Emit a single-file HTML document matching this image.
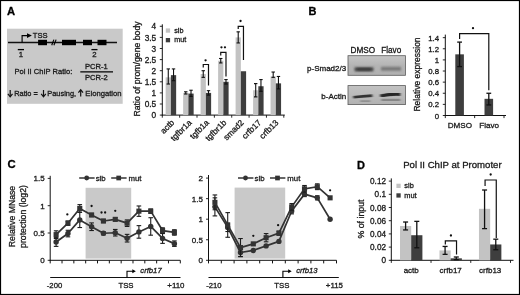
<!DOCTYPE html>
<html><head><meta charset="utf-8"><title>Figure</title>
<style>
html,body{margin:0;padding:0;background:#fff;}
svg{display:block;font-family:"Liberation Sans",sans-serif;}
</style></head><body>
<svg width="520" height="295" viewBox="0 0 520 295">
<rect x="0.55" y="0.55" width="518.90" height="293.90" fill="#fff" stroke="#000" stroke-width="1.1"/>
<text x="7.10" y="15.40" font-size="11.2" text-anchor="start" font-weight="bold" font-style="normal" fill="#000" stroke="#000" stroke-width="0.3" >A</text>
<text x="308.50" y="15.40" font-size="11" text-anchor="start" font-weight="bold" font-style="normal" fill="#000" stroke="#000" stroke-width="0.3" >B</text>
<text x="7.40" y="168.00" font-size="11.3" text-anchor="start" font-weight="bold" font-style="normal" fill="#000" stroke="#000" stroke-width="0.3" >C</text>
<text x="357.00" y="168.50" font-size="11" text-anchor="start" font-weight="bold" font-style="normal" fill="#000" stroke="#000" stroke-width="0.3" >D</text>
<rect x="7.00" y="28.70" width="115.70" height="75.10" fill="#c9c9c9" />
<line x1="8.00" y1="42.50" x2="117.00" y2="42.50" stroke="#111" stroke-width="1.3" />
<rect x="38.10" y="39.80" width="8.90" height="5.40" fill="#000" />
<rect x="62.00" y="39.80" width="14.00" height="5.40" fill="#000" />
<rect x="83.00" y="39.80" width="9.00" height="5.40" fill="#000" />
<rect x="97.50" y="39.80" width="9.00" height="5.40" fill="#000" />
<line x1="51.70" y1="45.20" x2="53.90" y2="39.60" stroke="#000" stroke-width="1.15" />
<line x1="53.90" y1="45.20" x2="56.10" y2="39.60" stroke="#000" stroke-width="1.15" />
<path d="M22.1 42.5V35.6H28" fill="none" stroke="#000" stroke-width="1.15"/>
<path d="M27 33.3L31.9 35.6L27 37.9Z" fill="#000"/>
<text x="32.80" y="38.30" font-size="7.6" text-anchor="start" font-weight="normal" font-style="normal" fill="#1a1a1a" stroke="#1a1a1a" stroke-width="0.3" >TSS</text>
<line x1="17.80" y1="49.60" x2="24.00" y2="49.60" stroke="#000" stroke-width="1.3" />
<text x="20.90" y="57.00" font-size="7.8" text-anchor="middle" font-weight="normal" font-style="normal" fill="#1a1a1a" stroke="#1a1a1a" stroke-width="0.3" >1</text>
<line x1="91.40" y1="49.60" x2="97.50" y2="49.60" stroke="#000" stroke-width="1.3" />
<text x="94.30" y="57.00" font-size="7.8" text-anchor="middle" font-weight="normal" font-style="normal" fill="#1a1a1a" stroke="#1a1a1a" stroke-width="0.3" >2</text>
<text x="14.50" y="73.80" font-size="7.55" text-anchor="start" font-weight="normal" font-style="normal" fill="#1a1a1a" stroke="#1a1a1a" stroke-width="0.3" >Pol II ChIP Ratio:</text>
<text x="96.30" y="68.80" font-size="7.6" text-anchor="middle" font-weight="normal" font-style="normal" fill="#1a1a1a" stroke="#1a1a1a" stroke-width="0.3" >PCR-1</text>
<line x1="80.30" y1="71.90" x2="113.00" y2="71.90" stroke="#000" stroke-width="1.4" />
<text x="96.30" y="79.70" font-size="7.6" text-anchor="middle" font-weight="normal" font-style="normal" fill="#1a1a1a" stroke="#1a1a1a" stroke-width="0.3" >PCR-2</text>
<line x1="10.20" y1="90.00" x2="10.20" y2="96.30" stroke="#111" stroke-width="1.2" />
<path d="M7.90 93.90L10.20 96.80L12.50 93.90" fill="none" stroke="#111" stroke-width="1.2"/>
<text x="14.20" y="96.30" font-size="7.4" text-anchor="start" font-weight="normal" font-style="normal" fill="#1a1a1a" stroke="#1a1a1a" stroke-width="0.3" >Ratio =</text>
<line x1="43.50" y1="90.00" x2="43.50" y2="96.30" stroke="#111" stroke-width="1.2" />
<path d="M41.20 93.90L43.50 96.80L45.80 93.90" fill="none" stroke="#111" stroke-width="1.2"/>
<text x="47.30" y="96.30" font-size="7.4" text-anchor="start" font-weight="normal" font-style="normal" fill="#1a1a1a" stroke="#1a1a1a" stroke-width="0.3" >Pausing,</text>
<line x1="80.70" y1="90.30" x2="80.70" y2="96.60" stroke="#111" stroke-width="1.2" />
<path d="M78.40 92.70L80.70 89.80L83.00 92.70" fill="none" stroke="#111" stroke-width="1.2"/>
<text x="85.30" y="96.30" font-size="7.7" text-anchor="start" font-weight="normal" font-style="normal" fill="#1a1a1a" stroke="#1a1a1a" stroke-width="0.3" >Elongation</text>
<line x1="162.30" y1="24.30" x2="162.30" y2="115.60" stroke="#111" stroke-width="1.0" />
<line x1="161.80" y1="115.10" x2="284.80" y2="115.10" stroke="#111" stroke-width="1.0" />
<line x1="159.80" y1="115.10" x2="162.30" y2="115.10" stroke="#111" stroke-width="0.9" />
<text x="156.20" y="118.20" font-size="8.3" text-anchor="end" font-weight="normal" font-style="normal" fill="#1a1a1a" stroke="#1a1a1a" stroke-width="0.3" >0</text>
<line x1="159.80" y1="104.00" x2="162.30" y2="104.00" stroke="#111" stroke-width="0.9" />
<text x="156.20" y="107.10" font-size="8.3" text-anchor="end" font-weight="normal" font-style="normal" fill="#1a1a1a" stroke="#1a1a1a" stroke-width="0.3" >0.5</text>
<line x1="159.80" y1="92.90" x2="162.30" y2="92.90" stroke="#111" stroke-width="0.9" />
<text x="156.20" y="96.00" font-size="8.3" text-anchor="end" font-weight="normal" font-style="normal" fill="#1a1a1a" stroke="#1a1a1a" stroke-width="0.3" >1</text>
<line x1="159.80" y1="81.80" x2="162.30" y2="81.80" stroke="#111" stroke-width="0.9" />
<text x="156.20" y="84.90" font-size="8.3" text-anchor="end" font-weight="normal" font-style="normal" fill="#1a1a1a" stroke="#1a1a1a" stroke-width="0.3" >1.5</text>
<line x1="159.80" y1="70.70" x2="162.30" y2="70.70" stroke="#111" stroke-width="0.9" />
<text x="156.20" y="73.80" font-size="8.3" text-anchor="end" font-weight="normal" font-style="normal" fill="#1a1a1a" stroke="#1a1a1a" stroke-width="0.3" >2</text>
<line x1="159.80" y1="59.60" x2="162.30" y2="59.60" stroke="#111" stroke-width="0.9" />
<text x="156.20" y="62.70" font-size="8.3" text-anchor="end" font-weight="normal" font-style="normal" fill="#1a1a1a" stroke="#1a1a1a" stroke-width="0.3" >2.5</text>
<line x1="159.80" y1="48.50" x2="162.30" y2="48.50" stroke="#111" stroke-width="0.9" />
<text x="156.20" y="51.60" font-size="8.3" text-anchor="end" font-weight="normal" font-style="normal" fill="#1a1a1a" stroke="#1a1a1a" stroke-width="0.3" >3</text>
<line x1="159.80" y1="37.40" x2="162.30" y2="37.40" stroke="#111" stroke-width="0.9" />
<text x="156.20" y="40.50" font-size="8.3" text-anchor="end" font-weight="normal" font-style="normal" fill="#1a1a1a" stroke="#1a1a1a" stroke-width="0.3" >3.5</text>
<line x1="159.80" y1="26.30" x2="162.30" y2="26.30" stroke="#111" stroke-width="0.9" />
<text x="156.20" y="29.40" font-size="8.3" text-anchor="end" font-weight="normal" font-style="normal" fill="#1a1a1a" stroke="#1a1a1a" stroke-width="0.3" >4</text>
<line x1="162.30" y1="115.10" x2="162.30" y2="117.70" stroke="#111" stroke-width="0.9" />
<line x1="179.66" y1="115.10" x2="179.66" y2="117.70" stroke="#111" stroke-width="0.9" />
<line x1="197.01" y1="115.10" x2="197.01" y2="117.70" stroke="#111" stroke-width="0.9" />
<line x1="214.37" y1="115.10" x2="214.37" y2="117.70" stroke="#111" stroke-width="0.9" />
<line x1="231.73" y1="115.10" x2="231.73" y2="117.70" stroke="#111" stroke-width="0.9" />
<line x1="249.09" y1="115.10" x2="249.09" y2="117.70" stroke="#111" stroke-width="0.9" />
<line x1="266.44" y1="115.10" x2="266.44" y2="117.70" stroke="#111" stroke-width="0.9" />
<line x1="283.80" y1="115.10" x2="283.80" y2="117.70" stroke="#111" stroke-width="0.9" />
<text transform="translate(140.4,69.0) rotate(-90)" font-size="8.7" stroke="#1a1a1a" stroke-width="0.3" text-anchor="middle" fill="#1a1a1a">Ratio of prom/gene body</text>
<rect x="165.65" y="77.36" width="5.25" height="37.74" fill="#c3c3c3" />
<rect x="170.90" y="75.14" width="5.25" height="39.96" fill="#3e3e3e" />
<line x1="168.28" y1="68.92" x2="168.28" y2="84.02" stroke="#111" stroke-width="1.1" />
<line x1="166.58" y1="68.92" x2="169.97" y2="68.92" stroke="#111" stroke-width="1.1" />
<line x1="166.58" y1="84.02" x2="169.97" y2="84.02" stroke="#111" stroke-width="1.1" />
<line x1="173.53" y1="68.92" x2="173.53" y2="80.69" stroke="#111" stroke-width="1.1" />
<line x1="171.83" y1="68.92" x2="175.22" y2="68.92" stroke="#111" stroke-width="1.1" />
<line x1="171.83" y1="80.69" x2="175.22" y2="80.69" stroke="#111" stroke-width="1.1" />
<text transform="translate(174.88,123.20) rotate(-45)" font-size="8.3" stroke="#1a1a1a" stroke-width="0.3" text-anchor="end" fill="#1a1a1a">actb</text>
<rect x="183.14" y="92.90" width="5.25" height="22.20" fill="#c3c3c3" />
<rect x="188.39" y="93.57" width="5.25" height="21.53" fill="#3e3e3e" />
<line x1="185.76" y1="91.79" x2="185.76" y2="94.01" stroke="#111" stroke-width="1.1" />
<line x1="184.06" y1="91.79" x2="187.46" y2="91.79" stroke="#111" stroke-width="1.1" />
<line x1="184.06" y1="94.01" x2="187.46" y2="94.01" stroke="#111" stroke-width="1.1" />
<line x1="191.01" y1="90.24" x2="191.01" y2="96.45" stroke="#111" stroke-width="1.1" />
<line x1="189.31" y1="90.24" x2="192.71" y2="90.24" stroke="#111" stroke-width="1.1" />
<line x1="189.31" y1="96.45" x2="192.71" y2="96.45" stroke="#111" stroke-width="1.1" />
<text transform="translate(192.24,123.20) rotate(-45)" font-size="8.3" stroke="#1a1a1a" stroke-width="0.3" text-anchor="end" fill="#1a1a1a">tgfbr1a</text>
<rect x="200.62" y="74.03" width="5.25" height="41.07" fill="#c3c3c3" />
<rect x="205.87" y="92.90" width="5.25" height="22.20" fill="#3e3e3e" />
<line x1="203.25" y1="70.70" x2="203.25" y2="77.36" stroke="#111" stroke-width="1.1" />
<line x1="201.55" y1="70.70" x2="204.95" y2="70.70" stroke="#111" stroke-width="1.1" />
<line x1="201.55" y1="77.36" x2="204.95" y2="77.36" stroke="#111" stroke-width="1.1" />
<line x1="208.50" y1="90.68" x2="208.50" y2="95.12" stroke="#111" stroke-width="1.1" />
<line x1="206.80" y1="90.68" x2="210.20" y2="90.68" stroke="#111" stroke-width="1.1" />
<line x1="206.80" y1="95.12" x2="210.20" y2="95.12" stroke="#111" stroke-width="1.1" />
<text transform="translate(209.59,123.20) rotate(-45)" font-size="8.3" stroke="#1a1a1a" stroke-width="0.3" text-anchor="end" fill="#1a1a1a">tgfb1a</text>
<rect x="218.11" y="60.71" width="5.25" height="54.39" fill="#c3c3c3" />
<rect x="223.36" y="81.80" width="5.25" height="33.30" fill="#3e3e3e" />
<line x1="220.74" y1="58.49" x2="220.74" y2="62.93" stroke="#111" stroke-width="1.1" />
<line x1="219.04" y1="58.49" x2="222.44" y2="58.49" stroke="#111" stroke-width="1.1" />
<line x1="219.04" y1="62.93" x2="222.44" y2="62.93" stroke="#111" stroke-width="1.1" />
<line x1="225.99" y1="79.58" x2="225.99" y2="84.02" stroke="#111" stroke-width="1.1" />
<line x1="224.29" y1="79.58" x2="227.69" y2="79.58" stroke="#111" stroke-width="1.1" />
<line x1="224.29" y1="84.02" x2="227.69" y2="84.02" stroke="#111" stroke-width="1.1" />
<text transform="translate(226.95,123.20) rotate(-45)" font-size="8.3" stroke="#1a1a1a" stroke-width="0.3" text-anchor="end" fill="#1a1a1a">tgfbr1b</text>
<rect x="235.60" y="37.40" width="5.25" height="77.70" fill="#c3c3c3" />
<rect x="240.85" y="71.25" width="5.25" height="43.84" fill="#3e3e3e" />
<line x1="238.22" y1="31.85" x2="238.22" y2="42.95" stroke="#111" stroke-width="1.1" />
<line x1="236.52" y1="31.85" x2="239.92" y2="31.85" stroke="#111" stroke-width="1.1" />
<line x1="236.52" y1="42.95" x2="239.92" y2="42.95" stroke="#111" stroke-width="1.1" />
<text transform="translate(244.31,123.20) rotate(-45)" font-size="8.3" stroke="#1a1a1a" stroke-width="0.3" text-anchor="end" fill="#1a1a1a">smad2</text>
<rect x="253.09" y="90.24" width="5.25" height="24.86" fill="#c3c3c3" />
<rect x="258.34" y="86.24" width="5.25" height="28.86" fill="#3e3e3e" />
<line x1="255.71" y1="83.58" x2="255.71" y2="96.90" stroke="#111" stroke-width="1.1" />
<line x1="254.01" y1="83.58" x2="257.41" y2="83.58" stroke="#111" stroke-width="1.1" />
<line x1="254.01" y1="96.90" x2="257.41" y2="96.90" stroke="#111" stroke-width="1.1" />
<line x1="260.96" y1="79.58" x2="260.96" y2="91.35" stroke="#111" stroke-width="1.1" />
<line x1="259.26" y1="79.58" x2="262.66" y2="79.58" stroke="#111" stroke-width="1.1" />
<line x1="259.26" y1="91.35" x2="262.66" y2="91.35" stroke="#111" stroke-width="1.1" />
<text transform="translate(261.66,123.20) rotate(-45)" font-size="8.3" stroke="#1a1a1a" stroke-width="0.3" text-anchor="end" fill="#1a1a1a">crfb17</text>
<rect x="270.57" y="76.47" width="5.25" height="38.63" fill="#c3c3c3" />
<rect x="275.82" y="83.35" width="5.25" height="31.75" fill="#3e3e3e" />
<line x1="273.20" y1="72.03" x2="273.20" y2="77.36" stroke="#111" stroke-width="1.1" />
<line x1="271.50" y1="72.03" x2="274.90" y2="72.03" stroke="#111" stroke-width="1.1" />
<line x1="271.50" y1="77.36" x2="274.90" y2="77.36" stroke="#111" stroke-width="1.1" />
<line x1="278.45" y1="76.47" x2="278.45" y2="88.90" stroke="#111" stroke-width="1.1" />
<line x1="276.75" y1="76.47" x2="280.15" y2="76.47" stroke="#111" stroke-width="1.1" />
<line x1="276.75" y1="88.90" x2="280.15" y2="88.90" stroke="#111" stroke-width="1.1" />
<text transform="translate(279.02,123.20) rotate(-45)" font-size="8.3" stroke="#1a1a1a" stroke-width="0.3" text-anchor="end" fill="#1a1a1a">crfb13</text>
<rect x="165.80" y="28.40" width="4.30" height="4.30" fill="#c3c3c3" />
<text x="174.20" y="32.50" font-size="7.2" text-anchor="start" font-weight="normal" font-style="normal" fill="#1a1a1a" stroke="#1a1a1a" stroke-width="0.3" >sib</text>
<rect x="165.80" y="38.00" width="4.30" height="4.30" fill="#3e3e3e" />
<text x="174.20" y="42.10" font-size="7.2" text-anchor="start" font-weight="normal" font-style="normal" fill="#1a1a1a" stroke="#1a1a1a" stroke-width="0.3" >mut</text>
<path d="M203.25 67.50V64.50H208.50V85.50" fill="none" stroke="#111" stroke-width="1.2"/>
<circle cx="205.57" cy="60.30" r="1.15" fill="#111"/>
<path d="M220.74 55.50V52.30H225.99V76.50" fill="none" stroke="#111" stroke-width="1.2"/>
<circle cx="221.46" cy="47.30" r="1.15" fill="#111"/>
<circle cx="224.96" cy="47.30" r="1.15" fill="#111"/>
<path d="M238.22 29.00V26.30H243.47V60.00" fill="none" stroke="#111" stroke-width="1.2"/>
<circle cx="240.55" cy="21.00" r="1.15" fill="#111"/>
<text x="350.50" y="52.80" font-size="8.2" text-anchor="start" font-weight="normal" font-style="normal" fill="#1a1a1a" stroke="#1a1a1a" stroke-width="0.3" >DMSO</text>
<text x="381.20" y="52.80" font-size="8.2" text-anchor="start" font-weight="normal" font-style="normal" fill="#1a1a1a" stroke="#1a1a1a" stroke-width="0.3" >Flavo</text>
<text x="346.20" y="70.90" font-size="8" text-anchor="end" font-weight="normal" font-style="normal" fill="#1a1a1a" stroke="#1a1a1a" stroke-width="0.3" >p-Smad2/3</text>
<text x="346.20" y="99.10" font-size="8" text-anchor="end" font-weight="normal" font-style="normal" fill="#1a1a1a" stroke="#1a1a1a" stroke-width="0.3" >b-Actin</text>
<defs>
<filter id="bl" x="-20%" y="-50%" width="140%" height="200%"><feGaussianBlur stdDeviation="1.1 0.9"/></filter>
<filter id="bl2" x="-20%" y="-50%" width="140%" height="200%"><feGaussianBlur stdDeviation="0.8 0.6"/></filter>
<linearGradient id="bg1" x1="0" x2="0" y1="0" y2="1"><stop offset="0" stop-color="#c6c6c6"/><stop offset="0.5" stop-color="#b4b4b4"/><stop offset="1" stop-color="#b0b0b0"/></linearGradient>
<clipPath id="c1"><rect x="348" y="55.7" width="57.4" height="19.6"/></clipPath>
<clipPath id="c2"><rect x="348" y="85.6" width="57.4" height="19"/></clipPath>
<linearGradient id="bg2" x1="0" x2="0" y1="0" y2="1"><stop offset="0" stop-color="#c2c2c2"/><stop offset="1" stop-color="#b2b2b2"/></linearGradient>
</defs>
<rect x="348.00" y="55.70" width="57.40" height="19.60" fill="url(#bg1)" stroke="#5a5a5a" stroke-width="0.8"/>
<g clip-path="url(#c1)">
<rect x="354.50" y="67.30" width="19.00" height="4.00" fill="#4a4a4a" filter="url(#bl)"/>
<rect x="357.00" y="68.30" width="14.00" height="2.00" fill="#333" filter="url(#bl)"/>
<rect x="381.00" y="66.90" width="20.00" height="3.80" fill="#777" filter="url(#bl)"/>
</g>
<rect x="348.00" y="85.60" width="57.40" height="19.00" fill="url(#bg2)" stroke="#5a5a5a" stroke-width="0.8"/>
<g clip-path="url(#c2)"><g transform="translate(0.3,0.8)">
<path d="M353 96.5 Q362 95.5 372 94.8" stroke="#333" stroke-width="2.6" fill="none" filter="url(#bl2)"/>
<path d="M380 95.2 Q390 93 400 93.5" stroke="#262626" stroke-width="3.2" fill="none" filter="url(#bl2)"/>
<rect x="360.00" y="99.50" width="10.00" height="1.60" fill="#8d8d8d" filter="url(#bl2)"/>
<rect x="381.00" y="98.00" width="19.00" height="2.20" fill="#868686" filter="url(#bl2)"/>
</g></g>
<line x1="445.30" y1="34.60" x2="445.30" y2="116.00" stroke="#111" stroke-width="1.0" />
<line x1="444.80" y1="115.50" x2="506.00" y2="115.50" stroke="#111" stroke-width="1.0" />
<line x1="442.80" y1="115.50" x2="445.30" y2="115.50" stroke="#111" stroke-width="0.9" />
<text x="439.10" y="118.50" font-size="7.8" text-anchor="end" font-weight="normal" font-style="normal" fill="#1a1a1a" stroke="#1a1a1a" stroke-width="0.3" >0</text>
<line x1="442.80" y1="104.38" x2="445.30" y2="104.38" stroke="#111" stroke-width="0.9" />
<text x="439.10" y="107.38" font-size="7.8" text-anchor="end" font-weight="normal" font-style="normal" fill="#1a1a1a" stroke="#1a1a1a" stroke-width="0.3" >0.2</text>
<line x1="442.80" y1="93.26" x2="445.30" y2="93.26" stroke="#111" stroke-width="0.9" />
<text x="439.10" y="96.26" font-size="7.8" text-anchor="end" font-weight="normal" font-style="normal" fill="#1a1a1a" stroke="#1a1a1a" stroke-width="0.3" >0.4</text>
<line x1="442.80" y1="82.14" x2="445.30" y2="82.14" stroke="#111" stroke-width="0.9" />
<text x="439.10" y="85.14" font-size="7.8" text-anchor="end" font-weight="normal" font-style="normal" fill="#1a1a1a" stroke="#1a1a1a" stroke-width="0.3" >0.6</text>
<line x1="442.80" y1="71.02" x2="445.30" y2="71.02" stroke="#111" stroke-width="0.9" />
<text x="439.10" y="74.02" font-size="7.8" text-anchor="end" font-weight="normal" font-style="normal" fill="#1a1a1a" stroke="#1a1a1a" stroke-width="0.3" >0.8</text>
<line x1="442.80" y1="59.90" x2="445.30" y2="59.90" stroke="#111" stroke-width="0.9" />
<text x="439.10" y="62.90" font-size="7.8" text-anchor="end" font-weight="normal" font-style="normal" fill="#1a1a1a" stroke="#1a1a1a" stroke-width="0.3" >1</text>
<line x1="442.80" y1="48.78" x2="445.30" y2="48.78" stroke="#111" stroke-width="0.9" />
<text x="439.10" y="51.78" font-size="7.8" text-anchor="end" font-weight="normal" font-style="normal" fill="#1a1a1a" stroke="#1a1a1a" stroke-width="0.3" >1.2</text>
<line x1="442.80" y1="37.66" x2="445.30" y2="37.66" stroke="#111" stroke-width="0.9" />
<text x="439.10" y="40.66" font-size="7.8" text-anchor="end" font-weight="normal" font-style="normal" fill="#1a1a1a" stroke="#1a1a1a" stroke-width="0.3" >1.4</text>
<line x1="445.30" y1="115.50" x2="445.30" y2="118.10" stroke="#111" stroke-width="0.9" />
<line x1="474.65" y1="115.50" x2="474.65" y2="118.10" stroke="#111" stroke-width="0.9" />
<line x1="504.00" y1="115.50" x2="504.00" y2="118.10" stroke="#111" stroke-width="0.9" />
<text transform="translate(420.4,74.5) rotate(-90)" font-size="8.5" stroke="#1a1a1a" stroke-width="0.3" text-anchor="middle" fill="#1a1a1a">Relative expression</text>
<rect x="455.30" y="54.34" width="8.60" height="61.16" fill="#3e3e3e" />
<line x1="459.60" y1="42.11" x2="459.60" y2="66.57" stroke="#111" stroke-width="1.3" />
<line x1="457.20" y1="42.11" x2="462.00" y2="42.11" stroke="#111" stroke-width="1.3" />
<line x1="457.20" y1="66.57" x2="462.00" y2="66.57" stroke="#111" stroke-width="1.3" />
<rect x="484.50" y="98.82" width="8.60" height="16.68" fill="#3e3e3e" />
<line x1="488.80" y1="93.26" x2="488.80" y2="104.94" stroke="#111" stroke-width="1.3" />
<line x1="486.40" y1="93.26" x2="491.20" y2="93.26" stroke="#111" stroke-width="1.3" />
<line x1="486.40" y1="104.94" x2="491.20" y2="104.94" stroke="#111" stroke-width="1.3" />
<path d="M459.60 39.00V33.70H488.80V90.30" fill="none" stroke="#111" stroke-width="1.2"/>
<circle cx="473.00" cy="28.20" r="1.15" fill="#111"/>
<text x="459.80" y="127.80" font-size="8.1" text-anchor="middle" font-weight="normal" font-style="normal" fill="#1a1a1a" stroke="#1a1a1a" stroke-width="0.3" >DMSO</text>
<text x="489.20" y="127.80" font-size="8.1" text-anchor="middle" font-weight="normal" font-style="normal" fill="#1a1a1a" stroke="#1a1a1a" stroke-width="0.3" >Flavo</text>
<rect x="85.60" y="187.80" width="45.60" height="70.80" fill="#c9c9c9" />
<line x1="50.20" y1="175.80" x2="50.20" y2="260.80" stroke="#111" stroke-width="1.0" />
<line x1="49.70" y1="260.30" x2="180.30" y2="260.30" stroke="#111" stroke-width="1.0" />
<line x1="47.70" y1="260.30" x2="50.20" y2="260.30" stroke="#111" stroke-width="0.9" />
<text x="44.60" y="263.20" font-size="8.0" text-anchor="end" font-weight="normal" font-style="normal" fill="#1a1a1a" stroke="#1a1a1a" stroke-width="0.3" >0</text>
<line x1="47.70" y1="233.00" x2="50.20" y2="233.00" stroke="#111" stroke-width="0.9" />
<text x="44.60" y="235.90" font-size="8.0" text-anchor="end" font-weight="normal" font-style="normal" fill="#1a1a1a" stroke="#1a1a1a" stroke-width="0.3" >0.5</text>
<line x1="47.70" y1="205.70" x2="50.20" y2="205.70" stroke="#111" stroke-width="0.9" />
<text x="44.60" y="208.60" font-size="8.0" text-anchor="end" font-weight="normal" font-style="normal" fill="#1a1a1a" stroke="#1a1a1a" stroke-width="0.3" >1</text>
<line x1="47.70" y1="178.40" x2="50.20" y2="178.40" stroke="#111" stroke-width="0.9" />
<text x="44.60" y="181.30" font-size="8.0" text-anchor="end" font-weight="normal" font-style="normal" fill="#1a1a1a" stroke="#1a1a1a" stroke-width="0.3" >1.5</text>
<line x1="50.20" y1="260.30" x2="50.20" y2="263.40" stroke="#111" stroke-width="1.0" />
<line x1="62.03" y1="260.30" x2="62.03" y2="263.40" stroke="#111" stroke-width="1.0" />
<line x1="73.85" y1="260.30" x2="73.85" y2="263.40" stroke="#111" stroke-width="1.0" />
<line x1="85.68" y1="260.30" x2="85.68" y2="263.40" stroke="#111" stroke-width="1.0" />
<line x1="97.51" y1="260.30" x2="97.51" y2="263.40" stroke="#111" stroke-width="1.0" />
<line x1="109.34" y1="260.30" x2="109.34" y2="263.40" stroke="#111" stroke-width="1.0" />
<line x1="121.16" y1="260.30" x2="121.16" y2="263.40" stroke="#111" stroke-width="1.0" />
<line x1="132.99" y1="260.30" x2="132.99" y2="263.40" stroke="#111" stroke-width="1.0" />
<line x1="144.82" y1="260.30" x2="144.82" y2="263.40" stroke="#111" stroke-width="1.0" />
<line x1="156.65" y1="260.30" x2="156.65" y2="263.40" stroke="#111" stroke-width="1.0" />
<line x1="168.47" y1="260.30" x2="168.47" y2="263.40" stroke="#111" stroke-width="1.0" />
<line x1="180.30" y1="260.30" x2="180.30" y2="263.40" stroke="#111" stroke-width="1.0" />
<polyline points="56.11,242.01 67.94,233.55 79.77,219.90 91.60,226.72 103.42,233.27 115.25,232.73 127.08,238.19 138.90,231.91 150.73,226.45 162.56,238.46 174.39,243.65" fill="none" stroke="#333" stroke-width="1.7" stroke-linejoin="round"/>
<line x1="56.11" y1="237.64" x2="56.11" y2="246.38" stroke="#1c1c1c" stroke-width="1.1" />
<line x1="53.81" y1="237.64" x2="58.41" y2="237.64" stroke="#1c1c1c" stroke-width="1.1" />
<line x1="53.81" y1="246.38" x2="58.41" y2="246.38" stroke="#1c1c1c" stroke-width="1.1" />
<circle cx="56.11" cy="242.01" r="2.7" fill="#333"/>
<line x1="67.94" y1="230.27" x2="67.94" y2="236.82" stroke="#1c1c1c" stroke-width="1.1" />
<line x1="65.64" y1="230.27" x2="70.24" y2="230.27" stroke="#1c1c1c" stroke-width="1.1" />
<line x1="65.64" y1="236.82" x2="70.24" y2="236.82" stroke="#1c1c1c" stroke-width="1.1" />
<circle cx="67.94" cy="233.55" r="2.7" fill="#333"/>
<line x1="79.77" y1="212.25" x2="79.77" y2="227.54" stroke="#1c1c1c" stroke-width="1.1" />
<line x1="77.47" y1="212.25" x2="82.07" y2="212.25" stroke="#1c1c1c" stroke-width="1.1" />
<line x1="77.47" y1="227.54" x2="82.07" y2="227.54" stroke="#1c1c1c" stroke-width="1.1" />
<circle cx="79.77" cy="219.90" r="2.7" fill="#333"/>
<line x1="91.60" y1="222.90" x2="91.60" y2="230.54" stroke="#1c1c1c" stroke-width="1.1" />
<line x1="89.30" y1="222.90" x2="93.90" y2="222.90" stroke="#1c1c1c" stroke-width="1.1" />
<line x1="89.30" y1="230.54" x2="93.90" y2="230.54" stroke="#1c1c1c" stroke-width="1.1" />
<circle cx="91.60" cy="226.72" r="2.7" fill="#333"/>
<line x1="103.42" y1="231.64" x2="103.42" y2="234.91" stroke="#1c1c1c" stroke-width="1.1" />
<line x1="101.12" y1="231.64" x2="105.72" y2="231.64" stroke="#1c1c1c" stroke-width="1.1" />
<line x1="101.12" y1="234.91" x2="105.72" y2="234.91" stroke="#1c1c1c" stroke-width="1.1" />
<circle cx="103.42" cy="233.27" r="2.7" fill="#333"/>
<line x1="115.25" y1="229.45" x2="115.25" y2="236.00" stroke="#1c1c1c" stroke-width="1.1" />
<line x1="112.95" y1="229.45" x2="117.55" y2="229.45" stroke="#1c1c1c" stroke-width="1.1" />
<line x1="112.95" y1="236.00" x2="117.55" y2="236.00" stroke="#1c1c1c" stroke-width="1.1" />
<circle cx="115.25" cy="232.73" r="2.7" fill="#333"/>
<line x1="127.08" y1="234.37" x2="127.08" y2="242.01" stroke="#1c1c1c" stroke-width="1.1" />
<line x1="124.78" y1="234.37" x2="129.38" y2="234.37" stroke="#1c1c1c" stroke-width="1.1" />
<line x1="124.78" y1="242.01" x2="129.38" y2="242.01" stroke="#1c1c1c" stroke-width="1.1" />
<circle cx="127.08" cy="238.19" r="2.7" fill="#333"/>
<line x1="138.90" y1="225.63" x2="138.90" y2="238.19" stroke="#1c1c1c" stroke-width="1.1" />
<line x1="136.60" y1="225.63" x2="141.20" y2="225.63" stroke="#1c1c1c" stroke-width="1.1" />
<line x1="136.60" y1="238.19" x2="141.20" y2="238.19" stroke="#1c1c1c" stroke-width="1.1" />
<circle cx="138.90" cy="231.91" r="2.7" fill="#333"/>
<line x1="150.73" y1="217.71" x2="150.73" y2="235.18" stroke="#1c1c1c" stroke-width="1.1" />
<line x1="148.43" y1="217.71" x2="153.03" y2="217.71" stroke="#1c1c1c" stroke-width="1.1" />
<line x1="148.43" y1="235.18" x2="153.03" y2="235.18" stroke="#1c1c1c" stroke-width="1.1" />
<circle cx="150.73" cy="226.45" r="2.7" fill="#333"/>
<line x1="162.56" y1="233.55" x2="162.56" y2="243.37" stroke="#1c1c1c" stroke-width="1.1" />
<line x1="160.26" y1="233.55" x2="164.86" y2="233.55" stroke="#1c1c1c" stroke-width="1.1" />
<line x1="160.26" y1="243.37" x2="164.86" y2="243.37" stroke="#1c1c1c" stroke-width="1.1" />
<circle cx="162.56" cy="238.46" r="2.7" fill="#333"/>
<line x1="174.39" y1="240.92" x2="174.39" y2="246.38" stroke="#1c1c1c" stroke-width="1.1" />
<line x1="172.09" y1="240.92" x2="176.69" y2="240.92" stroke="#1c1c1c" stroke-width="1.1" />
<line x1="172.09" y1="246.38" x2="176.69" y2="246.38" stroke="#1c1c1c" stroke-width="1.1" />
<circle cx="174.39" cy="243.65" r="2.7" fill="#333"/>
<polyline points="56.11,234.64 67.94,223.17 79.77,208.43 91.60,214.98 103.42,220.99 115.25,219.35 127.08,223.17 138.90,211.16 150.73,211.16 162.56,230.54 174.39,232.45" fill="none" stroke="#333" stroke-width="1.7" stroke-linejoin="round"/>
<line x1="56.11" y1="230.82" x2="56.11" y2="238.46" stroke="#1c1c1c" stroke-width="1.1" />
<line x1="53.81" y1="230.82" x2="58.41" y2="230.82" stroke="#1c1c1c" stroke-width="1.1" />
<line x1="53.81" y1="238.46" x2="58.41" y2="238.46" stroke="#1c1c1c" stroke-width="1.1" />
<rect x="53.56" y="232.09" width="5.10" height="5.10" fill="#333" />
<line x1="67.94" y1="220.99" x2="67.94" y2="225.36" stroke="#1c1c1c" stroke-width="1.1" />
<line x1="65.64" y1="220.99" x2="70.24" y2="220.99" stroke="#1c1c1c" stroke-width="1.1" />
<line x1="65.64" y1="225.36" x2="70.24" y2="225.36" stroke="#1c1c1c" stroke-width="1.1" />
<rect x="65.39" y="220.62" width="5.10" height="5.10" fill="#333" />
<line x1="79.77" y1="204.61" x2="79.77" y2="212.25" stroke="#1c1c1c" stroke-width="1.1" />
<line x1="77.47" y1="204.61" x2="82.07" y2="204.61" stroke="#1c1c1c" stroke-width="1.1" />
<line x1="77.47" y1="212.25" x2="82.07" y2="212.25" stroke="#1c1c1c" stroke-width="1.1" />
<rect x="77.22" y="205.88" width="5.10" height="5.10" fill="#333" />
<line x1="91.60" y1="213.34" x2="91.60" y2="216.62" stroke="#1c1c1c" stroke-width="1.1" />
<line x1="89.30" y1="213.34" x2="93.90" y2="213.34" stroke="#1c1c1c" stroke-width="1.1" />
<line x1="89.30" y1="216.62" x2="93.90" y2="216.62" stroke="#1c1c1c" stroke-width="1.1" />
<rect x="89.05" y="212.43" width="5.10" height="5.10" fill="#333" />
<line x1="103.42" y1="219.35" x2="103.42" y2="222.63" stroke="#1c1c1c" stroke-width="1.1" />
<line x1="101.12" y1="219.35" x2="105.72" y2="219.35" stroke="#1c1c1c" stroke-width="1.1" />
<line x1="101.12" y1="222.63" x2="105.72" y2="222.63" stroke="#1c1c1c" stroke-width="1.1" />
<rect x="100.87" y="218.44" width="5.10" height="5.10" fill="#333" />
<line x1="115.25" y1="217.71" x2="115.25" y2="220.99" stroke="#1c1c1c" stroke-width="1.1" />
<line x1="112.95" y1="217.71" x2="117.55" y2="217.71" stroke="#1c1c1c" stroke-width="1.1" />
<line x1="112.95" y1="220.99" x2="117.55" y2="220.99" stroke="#1c1c1c" stroke-width="1.1" />
<rect x="112.70" y="216.80" width="5.10" height="5.10" fill="#333" />
<line x1="127.08" y1="219.90" x2="127.08" y2="226.45" stroke="#1c1c1c" stroke-width="1.1" />
<line x1="124.78" y1="219.90" x2="129.38" y2="219.90" stroke="#1c1c1c" stroke-width="1.1" />
<line x1="124.78" y1="226.45" x2="129.38" y2="226.45" stroke="#1c1c1c" stroke-width="1.1" />
<rect x="124.53" y="220.62" width="5.10" height="5.10" fill="#333" />
<line x1="138.90" y1="205.97" x2="138.90" y2="216.35" stroke="#1c1c1c" stroke-width="1.1" />
<line x1="136.60" y1="205.97" x2="141.20" y2="205.97" stroke="#1c1c1c" stroke-width="1.1" />
<line x1="136.60" y1="216.35" x2="141.20" y2="216.35" stroke="#1c1c1c" stroke-width="1.1" />
<rect x="136.35" y="208.61" width="5.10" height="5.10" fill="#333" />
<line x1="150.73" y1="208.98" x2="150.73" y2="213.34" stroke="#1c1c1c" stroke-width="1.1" />
<line x1="148.43" y1="208.98" x2="153.03" y2="208.98" stroke="#1c1c1c" stroke-width="1.1" />
<line x1="148.43" y1="213.34" x2="153.03" y2="213.34" stroke="#1c1c1c" stroke-width="1.1" />
<rect x="148.18" y="208.61" width="5.10" height="5.10" fill="#333" />
<line x1="162.56" y1="227.81" x2="162.56" y2="233.27" stroke="#1c1c1c" stroke-width="1.1" />
<line x1="160.26" y1="227.81" x2="164.86" y2="227.81" stroke="#1c1c1c" stroke-width="1.1" />
<line x1="160.26" y1="233.27" x2="164.86" y2="233.27" stroke="#1c1c1c" stroke-width="1.1" />
<rect x="160.01" y="227.99" width="5.10" height="5.10" fill="#333" />
<line x1="174.39" y1="229.72" x2="174.39" y2="235.18" stroke="#1c1c1c" stroke-width="1.1" />
<line x1="172.09" y1="229.72" x2="176.69" y2="229.72" stroke="#1c1c1c" stroke-width="1.1" />
<line x1="172.09" y1="235.18" x2="176.69" y2="235.18" stroke="#1c1c1c" stroke-width="1.1" />
<rect x="171.84" y="229.90" width="5.10" height="5.10" fill="#333" />
<rect x="234.60" y="187.60" width="50.60" height="71.00" fill="#c9c9c9" />
<line x1="208.50" y1="175.00" x2="208.50" y2="260.80" stroke="#111" stroke-width="1.0" />
<line x1="208.00" y1="260.30" x2="336.50" y2="260.30" stroke="#111" stroke-width="1.0" />
<line x1="206.00" y1="260.30" x2="208.50" y2="260.30" stroke="#111" stroke-width="0.9" />
<text x="202.90" y="263.20" font-size="8.0" text-anchor="end" font-weight="normal" font-style="normal" fill="#1a1a1a" stroke="#1a1a1a" stroke-width="0.3" >0</text>
<line x1="206.00" y1="239.75" x2="208.50" y2="239.75" stroke="#111" stroke-width="0.9" />
<text x="202.90" y="242.65" font-size="8.0" text-anchor="end" font-weight="normal" font-style="normal" fill="#1a1a1a" stroke="#1a1a1a" stroke-width="0.3" >0.5</text>
<line x1="206.00" y1="219.20" x2="208.50" y2="219.20" stroke="#111" stroke-width="0.9" />
<text x="202.90" y="222.10" font-size="8.0" text-anchor="end" font-weight="normal" font-style="normal" fill="#1a1a1a" stroke="#1a1a1a" stroke-width="0.3" >1</text>
<line x1="206.00" y1="198.65" x2="208.50" y2="198.65" stroke="#111" stroke-width="0.9" />
<text x="202.90" y="201.55" font-size="8.0" text-anchor="end" font-weight="normal" font-style="normal" fill="#1a1a1a" stroke="#1a1a1a" stroke-width="0.3" >1.5</text>
<line x1="206.00" y1="178.10" x2="208.50" y2="178.10" stroke="#111" stroke-width="0.9" />
<text x="202.90" y="181.00" font-size="8.0" text-anchor="end" font-weight="normal" font-style="normal" fill="#1a1a1a" stroke="#1a1a1a" stroke-width="0.3" >2</text>
<line x1="208.50" y1="260.30" x2="208.50" y2="263.40" stroke="#111" stroke-width="1.0" />
<line x1="221.30" y1="260.30" x2="221.30" y2="263.40" stroke="#111" stroke-width="1.0" />
<line x1="234.10" y1="260.30" x2="234.10" y2="263.40" stroke="#111" stroke-width="1.0" />
<line x1="246.90" y1="260.30" x2="246.90" y2="263.40" stroke="#111" stroke-width="1.0" />
<line x1="259.70" y1="260.30" x2="259.70" y2="263.40" stroke="#111" stroke-width="1.0" />
<line x1="272.50" y1="260.30" x2="272.50" y2="263.40" stroke="#111" stroke-width="1.0" />
<line x1="285.30" y1="260.30" x2="285.30" y2="263.40" stroke="#111" stroke-width="1.0" />
<line x1="298.10" y1="260.30" x2="298.10" y2="263.40" stroke="#111" stroke-width="1.0" />
<line x1="310.90" y1="260.30" x2="310.90" y2="263.40" stroke="#111" stroke-width="1.0" />
<line x1="323.70" y1="260.30" x2="323.70" y2="263.40" stroke="#111" stroke-width="1.0" />
<line x1="336.50" y1="260.30" x2="336.50" y2="263.40" stroke="#111" stroke-width="1.0" />
<polyline points="214.90,206.87 227.70,227.42 240.50,252.49 253.30,250.44 266.10,245.92 278.90,241.39 291.70,210.98 304.50,194.13 317.30,197.83 330.10,219.20" fill="none" stroke="#333" stroke-width="1.7" stroke-linejoin="round"/>
<line x1="214.90" y1="197.83" x2="214.90" y2="215.91" stroke="#1c1c1c" stroke-width="1.1" />
<line x1="212.60" y1="197.83" x2="217.20" y2="197.83" stroke="#1c1c1c" stroke-width="1.1" />
<line x1="212.60" y1="215.91" x2="217.20" y2="215.91" stroke="#1c1c1c" stroke-width="1.1" />
<circle cx="214.90" cy="206.87" r="2.7" fill="#333"/>
<line x1="227.70" y1="223.31" x2="227.70" y2="231.53" stroke="#1c1c1c" stroke-width="1.1" />
<line x1="225.40" y1="223.31" x2="230.00" y2="223.31" stroke="#1c1c1c" stroke-width="1.1" />
<line x1="225.40" y1="231.53" x2="230.00" y2="231.53" stroke="#1c1c1c" stroke-width="1.1" />
<circle cx="227.70" cy="227.42" r="2.7" fill="#333"/>
<line x1="240.50" y1="248.38" x2="240.50" y2="256.60" stroke="#1c1c1c" stroke-width="1.1" />
<line x1="238.20" y1="248.38" x2="242.80" y2="248.38" stroke="#1c1c1c" stroke-width="1.1" />
<line x1="238.20" y1="256.60" x2="242.80" y2="256.60" stroke="#1c1c1c" stroke-width="1.1" />
<circle cx="240.50" cy="252.49" r="2.7" fill="#333"/>
<circle cx="253.30" cy="250.44" r="2.7" fill="#333"/>
<circle cx="266.10" cy="245.92" r="2.7" fill="#333"/>
<circle cx="278.90" cy="241.39" r="2.7" fill="#333"/>
<line x1="291.70" y1="208.10" x2="291.70" y2="213.86" stroke="#1c1c1c" stroke-width="1.1" />
<line x1="289.40" y1="208.10" x2="294.00" y2="208.10" stroke="#1c1c1c" stroke-width="1.1" />
<line x1="289.40" y1="213.86" x2="294.00" y2="213.86" stroke="#1c1c1c" stroke-width="1.1" />
<circle cx="291.70" cy="210.98" r="2.7" fill="#333"/>
<line x1="304.50" y1="191.66" x2="304.50" y2="196.60" stroke="#1c1c1c" stroke-width="1.1" />
<line x1="302.20" y1="191.66" x2="306.80" y2="191.66" stroke="#1c1c1c" stroke-width="1.1" />
<line x1="302.20" y1="196.60" x2="306.80" y2="196.60" stroke="#1c1c1c" stroke-width="1.1" />
<circle cx="304.50" cy="194.13" r="2.7" fill="#333"/>
<line x1="317.30" y1="195.77" x2="317.30" y2="199.88" stroke="#1c1c1c" stroke-width="1.1" />
<line x1="315.00" y1="195.77" x2="319.60" y2="195.77" stroke="#1c1c1c" stroke-width="1.1" />
<line x1="315.00" y1="199.88" x2="319.60" y2="199.88" stroke="#1c1c1c" stroke-width="1.1" />
<circle cx="317.30" cy="197.83" r="2.7" fill="#333"/>
<circle cx="330.10" cy="219.20" r="2.7" fill="#333"/>
<polyline points="214.90,202.35 227.70,224.95 240.50,247.56 253.30,243.86 266.10,237.69 278.90,233.17 291.70,206.87 304.50,188.79 317.30,186.73 330.10,197.83" fill="none" stroke="#333" stroke-width="1.7" stroke-linejoin="round"/>
<line x1="214.90" y1="194.95" x2="214.90" y2="209.75" stroke="#1c1c1c" stroke-width="1.1" />
<line x1="212.60" y1="194.95" x2="217.20" y2="194.95" stroke="#1c1c1c" stroke-width="1.1" />
<line x1="212.60" y1="209.75" x2="217.20" y2="209.75" stroke="#1c1c1c" stroke-width="1.1" />
<rect x="212.35" y="199.80" width="5.10" height="5.10" fill="#333" />
<line x1="227.70" y1="212.62" x2="227.70" y2="237.28" stroke="#1c1c1c" stroke-width="1.1" />
<line x1="225.40" y1="212.62" x2="230.00" y2="212.62" stroke="#1c1c1c" stroke-width="1.1" />
<line x1="225.40" y1="237.28" x2="230.00" y2="237.28" stroke="#1c1c1c" stroke-width="1.1" />
<rect x="225.15" y="222.40" width="5.10" height="5.10" fill="#333" />
<line x1="240.50" y1="238.52" x2="240.50" y2="256.60" stroke="#1c1c1c" stroke-width="1.1" />
<line x1="238.20" y1="238.52" x2="242.80" y2="238.52" stroke="#1c1c1c" stroke-width="1.1" />
<line x1="238.20" y1="256.60" x2="242.80" y2="256.60" stroke="#1c1c1c" stroke-width="1.1" />
<rect x="237.95" y="245.01" width="5.10" height="5.10" fill="#333" />
<rect x="250.75" y="241.31" width="5.10" height="5.10" fill="#333" />
<line x1="266.10" y1="233.58" x2="266.10" y2="241.81" stroke="#1c1c1c" stroke-width="1.1" />
<line x1="263.80" y1="233.58" x2="268.40" y2="233.58" stroke="#1c1c1c" stroke-width="1.1" />
<line x1="263.80" y1="241.81" x2="268.40" y2="241.81" stroke="#1c1c1c" stroke-width="1.1" />
<rect x="263.55" y="235.14" width="5.10" height="5.10" fill="#333" />
<line x1="278.90" y1="231.12" x2="278.90" y2="235.23" stroke="#1c1c1c" stroke-width="1.1" />
<line x1="276.60" y1="231.12" x2="281.20" y2="231.12" stroke="#1c1c1c" stroke-width="1.1" />
<line x1="276.60" y1="235.23" x2="281.20" y2="235.23" stroke="#1c1c1c" stroke-width="1.1" />
<rect x="276.35" y="230.62" width="5.10" height="5.10" fill="#333" />
<line x1="291.70" y1="203.58" x2="291.70" y2="210.16" stroke="#1c1c1c" stroke-width="1.1" />
<line x1="289.40" y1="203.58" x2="294.00" y2="203.58" stroke="#1c1c1c" stroke-width="1.1" />
<line x1="289.40" y1="210.16" x2="294.00" y2="210.16" stroke="#1c1c1c" stroke-width="1.1" />
<rect x="289.15" y="204.32" width="5.10" height="5.10" fill="#333" />
<line x1="304.50" y1="185.50" x2="304.50" y2="192.07" stroke="#1c1c1c" stroke-width="1.1" />
<line x1="302.20" y1="185.50" x2="306.80" y2="185.50" stroke="#1c1c1c" stroke-width="1.1" />
<line x1="302.20" y1="192.07" x2="306.80" y2="192.07" stroke="#1c1c1c" stroke-width="1.1" />
<rect x="301.95" y="186.24" width="5.10" height="5.10" fill="#333" />
<line x1="317.30" y1="183.85" x2="317.30" y2="189.61" stroke="#1c1c1c" stroke-width="1.1" />
<line x1="315.00" y1="183.85" x2="319.60" y2="183.85" stroke="#1c1c1c" stroke-width="1.1" />
<line x1="315.00" y1="189.61" x2="319.60" y2="189.61" stroke="#1c1c1c" stroke-width="1.1" />
<rect x="314.75" y="184.18" width="5.10" height="5.10" fill="#333" />
<rect x="327.55" y="195.28" width="5.10" height="5.10" fill="#333" />
<text transform="translate(15.2,216.5) rotate(-90)" font-size="8.7" text-anchor="middle" fill="#1a1a1a" stroke="#1a1a1a" stroke-width="0.3"><tspan x="0" dy="0">Relative MNase</tspan><tspan x="0" dy="11.3">protection (log2)</tspan></text>
<line x1="79.20" y1="178.00" x2="94.60" y2="178.00" stroke="#333" stroke-width="1.5" />
<circle cx="86.70" cy="178.00" r="2.4" fill="#333"/>
<text x="95.70" y="180.70" font-size="7.8" text-anchor="start" font-weight="normal" font-style="normal" fill="#1a1a1a" stroke="#1a1a1a" stroke-width="0.3" >sib</text>
<line x1="111.20" y1="178.00" x2="126.60" y2="178.00" stroke="#333" stroke-width="1.5" />
<rect x="116.35" y="175.65" width="4.70" height="4.70" fill="#333" />
<text x="128.50" y="180.70" font-size="7.8" text-anchor="start" font-weight="normal" font-style="normal" fill="#1a1a1a" stroke="#1a1a1a" stroke-width="0.3" >mut</text>
<line x1="238.00" y1="178.00" x2="253.40" y2="178.00" stroke="#333" stroke-width="1.5" />
<circle cx="245.50" cy="178.00" r="2.4" fill="#333"/>
<text x="254.50" y="180.70" font-size="7.8" text-anchor="start" font-weight="normal" font-style="normal" fill="#1a1a1a" stroke="#1a1a1a" stroke-width="0.3" >sib</text>
<line x1="270.00" y1="178.00" x2="285.40" y2="178.00" stroke="#333" stroke-width="1.5" />
<rect x="275.15" y="175.65" width="4.70" height="4.70" fill="#333" />
<text x="287.30" y="180.70" font-size="7.8" text-anchor="start" font-weight="normal" font-style="normal" fill="#1a1a1a" stroke="#1a1a1a" stroke-width="0.3" >mut</text>
<circle cx="67.34" cy="214.47" r="1.15" fill="#111"/>
<circle cx="91.60" cy="205.98" r="1.15" fill="#111"/>
<circle cx="115.25" cy="210.85" r="1.15" fill="#111"/>
<circle cx="101.52" cy="212.49" r="1.15" fill="#111"/>
<circle cx="105.12" cy="212.49" r="1.15" fill="#111"/>
<circle cx="253.30" cy="235.86" r="1.15" fill="#111"/>
<circle cx="278.10" cy="225.17" r="1.15" fill="#111"/>
<circle cx="330.10" cy="190.33" r="1.15" fill="#111"/>
<line x1="50.20" y1="277.50" x2="180.50" y2="277.50" stroke="#111" stroke-width="1.1" />
<path d="M127.00 277.5V271.3H133.00" fill="none" stroke="#000" stroke-width="1.1"/>
<path d="M132.30 269.3L135.80 271.3L132.30 273.3Z" fill="#000"/>
<text x="140.30" y="273.30" font-size="7.7" text-anchor="start" font-weight="normal" font-style="italic" fill="#1a1a1a" stroke="#1a1a1a" stroke-width="0.3" >crfb17</text>
<text x="46.80" y="287.60" font-size="7.7" text-anchor="start" font-weight="normal" font-style="normal" fill="#1a1a1a" stroke="#1a1a1a" stroke-width="0.3" >-200</text>
<text x="126.00" y="287.60" font-size="7.8" text-anchor="middle" font-weight="normal" font-style="normal" fill="#1a1a1a" stroke="#1a1a1a" stroke-width="0.3" >TSS</text>
<text x="184.50" y="287.60" font-size="7.9" text-anchor="end" font-weight="normal" font-style="normal" fill="#1a1a1a" stroke="#1a1a1a" stroke-width="0.3" >+110</text>
<line x1="208.50" y1="277.50" x2="338.80" y2="277.50" stroke="#111" stroke-width="1.1" />
<path d="M282.90 277.5V271.3H288.90" fill="none" stroke="#000" stroke-width="1.1"/>
<path d="M288.20 269.3L291.70 271.3L288.20 273.3Z" fill="#000"/>
<text x="296.20" y="273.30" font-size="7.7" text-anchor="start" font-weight="normal" font-style="italic" fill="#1a1a1a" stroke="#1a1a1a" stroke-width="0.3" >crfb13</text>
<text x="206.20" y="287.60" font-size="7.7" text-anchor="start" font-weight="normal" font-style="normal" fill="#1a1a1a" stroke="#1a1a1a" stroke-width="0.3" >-210</text>
<text x="281.90" y="287.60" font-size="7.8" text-anchor="middle" font-weight="normal" font-style="normal" fill="#1a1a1a" stroke="#1a1a1a" stroke-width="0.3" >TSS</text>
<text x="343.00" y="287.60" font-size="7.9" text-anchor="end" font-weight="normal" font-style="normal" fill="#1a1a1a" stroke="#1a1a1a" stroke-width="0.3" >+115</text>
<line x1="391.30" y1="178.40" x2="391.30" y2="260.80" stroke="#111" stroke-width="1.0" />
<line x1="390.80" y1="260.30" x2="513.50" y2="260.30" stroke="#111" stroke-width="1.0" />
<line x1="388.80" y1="260.30" x2="391.30" y2="260.30" stroke="#111" stroke-width="0.9" />
<text x="386.00" y="263.40" font-size="8.2" text-anchor="end" font-weight="normal" font-style="normal" fill="#1a1a1a" stroke="#1a1a1a" stroke-width="0.3" >0</text>
<line x1="388.80" y1="247.10" x2="391.30" y2="247.10" stroke="#111" stroke-width="0.9" />
<text x="386.00" y="250.20" font-size="8.2" text-anchor="end" font-weight="normal" font-style="normal" fill="#1a1a1a" stroke="#1a1a1a" stroke-width="0.3" >0.02</text>
<line x1="388.80" y1="233.90" x2="391.30" y2="233.90" stroke="#111" stroke-width="0.9" />
<text x="386.00" y="237.00" font-size="8.2" text-anchor="end" font-weight="normal" font-style="normal" fill="#1a1a1a" stroke="#1a1a1a" stroke-width="0.3" >0.04</text>
<line x1="388.80" y1="220.70" x2="391.30" y2="220.70" stroke="#111" stroke-width="0.9" />
<text x="386.00" y="223.80" font-size="8.2" text-anchor="end" font-weight="normal" font-style="normal" fill="#1a1a1a" stroke="#1a1a1a" stroke-width="0.3" >0.06</text>
<line x1="388.80" y1="207.50" x2="391.30" y2="207.50" stroke="#111" stroke-width="0.9" />
<text x="386.00" y="210.60" font-size="8.2" text-anchor="end" font-weight="normal" font-style="normal" fill="#1a1a1a" stroke="#1a1a1a" stroke-width="0.3" >0.08</text>
<line x1="388.80" y1="194.30" x2="391.30" y2="194.30" stroke="#111" stroke-width="0.9" />
<text x="386.00" y="197.40" font-size="8.2" text-anchor="end" font-weight="normal" font-style="normal" fill="#1a1a1a" stroke="#1a1a1a" stroke-width="0.3" >0.1</text>
<line x1="388.80" y1="181.10" x2="391.30" y2="181.10" stroke="#111" stroke-width="0.9" />
<text x="386.00" y="184.20" font-size="8.2" text-anchor="end" font-weight="normal" font-style="normal" fill="#1a1a1a" stroke="#1a1a1a" stroke-width="0.3" >0.12</text>
<line x1="391.30" y1="260.30" x2="391.30" y2="262.90" stroke="#111" stroke-width="0.9" />
<line x1="431.03" y1="260.30" x2="431.03" y2="262.90" stroke="#111" stroke-width="0.9" />
<line x1="470.77" y1="260.30" x2="470.77" y2="262.90" stroke="#111" stroke-width="0.9" />
<line x1="510.50" y1="260.30" x2="510.50" y2="262.90" stroke="#111" stroke-width="0.9" />
<text transform="translate(363.8,219) rotate(-90)" font-size="8.8" stroke="#1a1a1a" stroke-width="0.3" text-anchor="middle" fill="#1a1a1a">% of input</text>
<text x="452.40" y="168.40" font-size="9.6" text-anchor="middle" font-weight="normal" font-style="normal" fill="#1a1a1a" stroke="#1a1a1a" stroke-width="0.3" >Pol II ChIP at Promoter</text>
<rect x="400.00" y="225.98" width="11.20" height="34.32" fill="#c3c3c3" />
<line x1="405.60" y1="222.02" x2="405.60" y2="229.94" stroke="#111" stroke-width="1.3" />
<line x1="403.10" y1="222.02" x2="408.10" y2="222.02" stroke="#111" stroke-width="1.3" />
<line x1="403.10" y1="229.94" x2="408.10" y2="229.94" stroke="#111" stroke-width="1.3" />
<rect x="411.20" y="235.22" width="11.20" height="25.08" fill="#3e3e3e" />
<line x1="416.80" y1="221.36" x2="416.80" y2="247.76" stroke="#111" stroke-width="1.3" />
<line x1="414.30" y1="221.36" x2="419.30" y2="221.36" stroke="#111" stroke-width="1.3" />
<line x1="414.30" y1="247.76" x2="419.30" y2="247.76" stroke="#111" stroke-width="1.3" />
<text x="411.20" y="273.30" font-size="8.0" text-anchor="middle" font-weight="normal" font-style="normal" fill="#1a1a1a" stroke="#1a1a1a" stroke-width="0.3" >actb</text>
<rect x="439.48" y="250.40" width="11.20" height="9.90" fill="#c3c3c3" />
<line x1="445.08" y1="246.44" x2="445.08" y2="254.36" stroke="#111" stroke-width="1.3" />
<line x1="442.58" y1="246.44" x2="447.58" y2="246.44" stroke="#111" stroke-width="1.3" />
<line x1="442.58" y1="254.36" x2="447.58" y2="254.36" stroke="#111" stroke-width="1.3" />
<rect x="450.68" y="258.32" width="11.20" height="1.98" fill="#3e3e3e" />
<line x1="456.28" y1="257.00" x2="456.28" y2="259.64" stroke="#111" stroke-width="1.3" />
<line x1="453.78" y1="257.00" x2="458.78" y2="257.00" stroke="#111" stroke-width="1.3" />
<line x1="453.78" y1="259.64" x2="458.78" y2="259.64" stroke="#111" stroke-width="1.3" />
<text x="450.68" y="273.30" font-size="8.0" text-anchor="middle" font-weight="normal" font-style="normal" fill="#1a1a1a" stroke="#1a1a1a" stroke-width="0.3" >crfb17</text>
<rect x="478.97" y="208.82" width="11.20" height="51.48" fill="#c3c3c3" />
<line x1="484.57" y1="190.01" x2="484.57" y2="228.62" stroke="#111" stroke-width="1.3" />
<line x1="482.07" y1="190.01" x2="487.07" y2="190.01" stroke="#111" stroke-width="1.3" />
<line x1="482.07" y1="228.62" x2="487.07" y2="228.62" stroke="#111" stroke-width="1.3" />
<rect x="490.17" y="244.46" width="11.20" height="15.84" fill="#3e3e3e" />
<line x1="495.77" y1="239.18" x2="495.77" y2="249.74" stroke="#111" stroke-width="1.3" />
<line x1="493.27" y1="239.18" x2="498.27" y2="239.18" stroke="#111" stroke-width="1.3" />
<line x1="493.27" y1="249.74" x2="498.27" y2="249.74" stroke="#111" stroke-width="1.3" />
<text x="490.17" y="273.30" font-size="8.0" text-anchor="middle" font-weight="normal" font-style="normal" fill="#1a1a1a" stroke="#1a1a1a" stroke-width="0.3" >crfb13</text>
<rect x="396.40" y="183.70" width="4.30" height="4.30" fill="#c3c3c3" />
<text x="404.30" y="188.20" font-size="7.4" text-anchor="start" font-weight="normal" font-style="normal" fill="#1a1a1a" stroke="#1a1a1a" stroke-width="0.3" >sib</text>
<rect x="396.40" y="193.30" width="4.30" height="4.30" fill="#3e3e3e" />
<text x="404.30" y="198.20" font-size="7.4" text-anchor="start" font-weight="normal" font-style="normal" fill="#1a1a1a" stroke="#1a1a1a" stroke-width="0.3" >mut</text>
<path d="M445.33 244.50V240.90H456.53V254.50" fill="none" stroke="#111" stroke-width="1.2"/>
<circle cx="450.93" cy="235.50" r="1.15" fill="#111"/>
<path d="M485.07 186.00V180.00H496.27V238.00" fill="none" stroke="#111" stroke-width="1.2"/>
<circle cx="490.67" cy="174.50" r="1.15" fill="#111"/>
</svg>
</body></html>
